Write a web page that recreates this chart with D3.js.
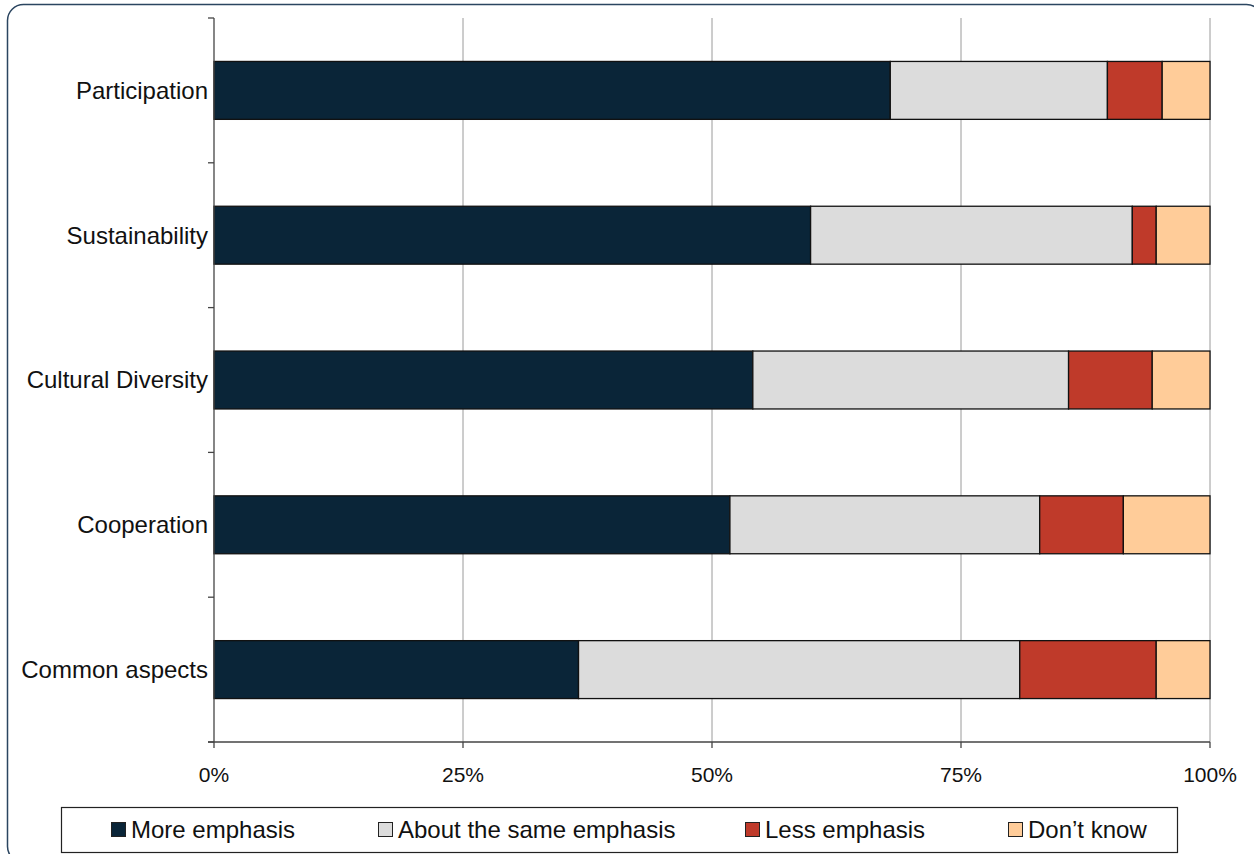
<!DOCTYPE html>
<html><head><meta charset="utf-8">
<script src="https://cdn.jsdelivr.net/npm/d3@7"></script>
<style>body{margin:0;background:#fff}svg{display:block}text{font-family:"Liberation Sans",Arial,sans-serif;fill:#111}</style>
</head><body><svg id="c" width="1254" height="854"></svg>
<script>
const categories = ["Participation","Sustainability","Cultural Diversity","Cooperation","Common aspects"];
const seriesNames = ["More emphasis","About the same emphasis","Less emphasis","Don\u2019t know"];
const moreEmphasis = [67.9, 59.9, 54.1, 51.8, 36.6];
const sameEmphasis = [21.8, 32.3, 31.7, 31.1, 44.3];
const lessEmphasis = [5.5, 2.4, 8.4, 8.4, 13.7];
const dontKnow     = [4.8, 5.4, 5.8, 8.7, 5.4];
const xTicks = [0, 25, 50, 75, 100];
const colors = ["#0a2538", "#dcdcdc", "#bf3a2a", "#ffcc99"];

const svg = d3.select("#c");
svg.append("rect").attr("x",7.5).attr("y",4.5).attr("width",1255).attr("height",858)
  .attr("rx",16).attr("fill","none").attr("stroke","#2b4560").attr("stroke-width",1.5);

const m = {l:214, r:1210, t:18, b:742};
const x = d3.scaleLinear().domain([0,100]).range([m.l, m.r]);
const y = d3.scaleBand().domain(categories).range([m.t, m.b]).paddingInner(0.6).paddingOuter(0.3);
const yb = d3.scaleBand().domain(categories).range([m.t, m.b]);

// gridlines
svg.append("g").selectAll("line").data(xTicks.filter(d=>d>0)).join("line")
  .attr("x1",d=>x(d)).attr("x2",d=>x(d)).attr("y1",m.t).attr("y2",m.b)
  .attr("stroke","#9a9a9a").attr("stroke-width",1);

const data = categories.map((c,i)=>({cat:c, v:[moreEmphasis[i],sameEmphasis[i],lessEmphasis[i],dontKnow[i]]}));
const stacked = d3.stack().keys([0,1,2,3]).value((d,k)=>d.v[k])(data);
svg.append("g").selectAll("g").data(stacked).join("g").attr("fill",(d,i)=>colors[i])
  .selectAll("rect").data(d=>d).join("rect")
  .attr("x",d=>x(d[0])).attr("width",d=>x(d[1])-x(d[0]))
  .attr("y",d=>y(d.data.cat)).attr("height",y.bandwidth())
  .attr("stroke","#111").attr("stroke-width",1.3);

// y axis
const ya = svg.append("g").attr("transform",`translate(${m.l},0)`);
ya.append("line").attr("x1",0).attr("x2",0).attr("y1",m.t).attr("y2",m.b).attr("stroke","#444").attr("stroke-width",1.3);
const bounds = d3.range(categories.length+1).map(i=>m.t + i*yb.step());
ya.selectAll("line.t").data(bounds).join("line").attr("class","t")
  .attr("x1",-6).attr("x2",0).attr("y1",d=>d).attr("y2",d=>d).attr("stroke","#444").attr("stroke-width",1.3);
ya.selectAll("text").data(categories).join("text")
  .attr("x",-6).attr("y",d=>y(d)+y.bandwidth()/2).attr("dy","0.35em")
  .attr("text-anchor","end").attr("font-size",24).text(d=>d);

// x axis
const xa = svg.append("g").attr("transform",`translate(0,${m.b})`);
xa.append("line").attr("x1",m.l-6).attr("x2",m.r).attr("stroke","#444").attr("stroke-width",1.3);
xa.selectAll("line.t").data(xTicks).join("line").attr("class","t")
  .attr("x1",d=>x(d)).attr("x2",d=>x(d)).attr("y1",0).attr("y2",6).attr("stroke","#444").attr("stroke-width",1.3);
xa.selectAll("text").data(xTicks).join("text")
  .attr("x",d=>x(d)).attr("y",40).attr("text-anchor","middle").attr("font-size",21).text(d=>d+"%");

// legend
svg.append("rect").attr("x",61.5).attr("y",807.5).attr("width",1116).attr("height",45)
  .attr("fill","#fff").attr("stroke","#222").attr("stroke-width",1.2);
const legX = [111, 378, 745, 1008];
const lg = svg.append("g").selectAll("g").data(seriesNames).join("g")
  .attr("transform",(d,i)=>`translate(${legX[i]},830)`);
lg.append("rect").attr("x",0.5).attr("y",-7.5).attr("width",14).attr("height",14)
  .attr("fill",(d,i)=>colors[i]).attr("stroke","#222").attr("stroke-width",1);
lg.append("text").attr("x",20).attr("y",0).attr("dy","0.35em").attr("font-size",24).text(d=>d);
</script></body></html>
